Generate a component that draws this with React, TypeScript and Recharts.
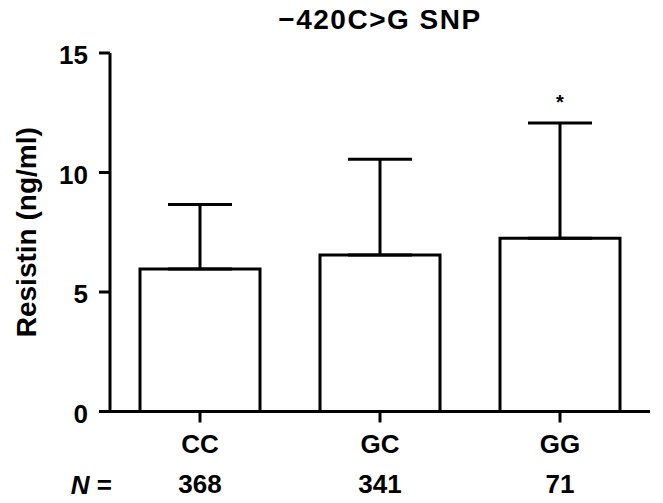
import { ComposedChart, Bar, XAxis, YAxis, ErrorBar, ReferenceDot, Label } from "recharts";

const GENOTYPES = ["CC", "GC", "GG"];
const N_COUNTS = ["368", "341", "71"];
const MEANS = [5.96, 6.55, 7.25];
const SD_UP = [2.7, 4.0, 4.82];
const SIG = ["", "", "*"];
const Y_TICKS = [0, 5, 10, 15];

const data = GENOTYPES.map((g, i) => ({ g, mean: MEANS[i], err: [0, SD_UP[i]], n: N_COUNTS[i] }));

const FONT = "'Liberation Sans', Arial, sans-serif";

function GenoTick({ x, y, payload, index }: any) {
  return (
    <g>
      <text x={x} y={y} dy={28} textAnchor="middle" fontSize={26} fontWeight="bold" fontFamily={FONT} fill="#000">
        {payload.value}
      </text>
      <text x={x} y={y} dy={68} textAnchor="middle" fontSize={26} fontWeight="bold" fontFamily={FONT} fill="#000">
        {N_COUNTS[index]}
      </text>
    </g>
  );
}

const renderYLabel = ({ viewBox }: any) => {
  const cx = viewBox.x + 26;
  const cy = viewBox.y + viewBox.height / 2;
  return (
    <text x={cx} y={cy} transform={`rotate(-90, ${cx}, ${cy})`} textAnchor="middle" dominantBaseline="central"
      fontSize={28} fontWeight="bold" fontFamily={FONT} fill="#000">
      Resistin (ng/ml)
    </text>
  );
};

const renderNLabel = ({ viewBox }: any) => (
  <text x={viewBox.x + 2} y={viewBox.y + 24.5 + 58} textAnchor="end" fontSize={26} fontWeight="bold" fontFamily={FONT} fill="#000">
    <tspan fontStyle="italic">N</tspan> =
  </text>
);

const renderStar = (txt: string) => ({ viewBox }: any) => (
  <text x={viewBox.x + (viewBox.width || 0) / 2} y={viewBox.y - 14} textAnchor="middle" fontSize={20} fontWeight="bold" fontFamily={FONT} fill="#000">
    {txt}
  </text>
);

export default function App() {
  return (
    <div style={{ position: "absolute", left: 0, top: 0, width: 663, height: 503, background: "#fff" }}>
      <div style={{ position: "absolute", left: 110, top: 4, width: 540, textAlign: "center", fontFamily: FONT, fontWeight: "bold", fontSize: 28, letterSpacing: 1.5, lineHeight: "32px", color: "#000" }}>
        −420C&gt;G SNP
      </div>
      <ComposedChart width={663} height={503} data={data} margin={{ top: 53, right: 13, left: 0, bottom: 0 }}>
        <XAxis dataKey="g" height={91.5} tick={<GenoTick />} tickSize={11}
          axisLine={{ stroke: "#000", strokeWidth: 3 }} tickLine={{ stroke: "#000", strokeWidth: 3 }}>
          <Label content={renderNLabel} />
        </XAxis>
        <YAxis width={110} domain={[0, 15]} ticks={Y_TICKS} interval={0} tickSize={11} tickMargin={11}
          tick={{ fontSize: 26, fontWeight: "bold", fontFamily: FONT, fill: "#000", dy: 2 }}
          axisLine={{ stroke: "#000", strokeWidth: 3 }} tickLine={{ stroke: "#000", strokeWidth: 3 }}>
          <Label content={renderYLabel} />
        </YAxis>
        <Bar dataKey="mean" barSize={120} fill="#fff" stroke="#000" strokeWidth={3} isAnimationActive={false}>
          <ErrorBar dataKey="err" direction="y" width={32} stroke="#000" strokeWidth={3} isAnimationActive={false} />
        </Bar>
        {GENOTYPES.map((g, i) =>
          SIG[i] ? (
            <ReferenceDot key={g} x={g} y={MEANS[i] + SD_UP[i]} r={0} stroke="none" fill="none" label={renderStar(SIG[i])} />
          ) : null
        )}
      </ComposedChart>
    </div>
  );
}
